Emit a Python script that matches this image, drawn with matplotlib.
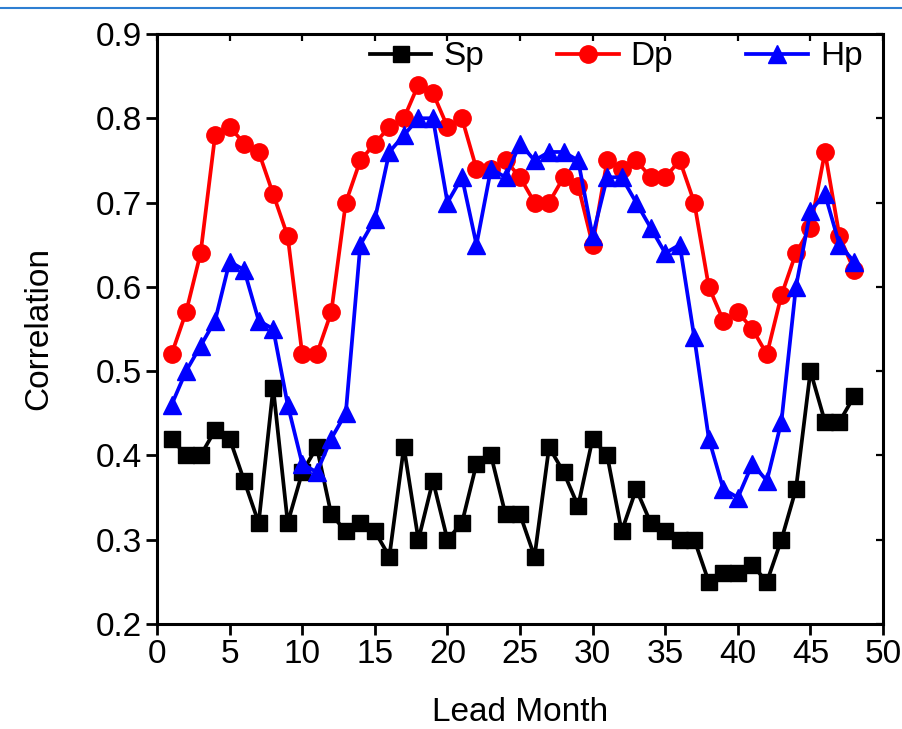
import matplotlib
matplotlib.use('Agg')
import matplotlib.pyplot as plt
from matplotlib.lines import Line2D

plt.rcParams['font.family'] = ['Liberation Sans', 'DejaVu Sans']

lead = list(range(1, 49))
sp = [0.42, 0.40, 0.40, 0.43, 0.42, 0.37, 0.32, 0.48, 0.32, 0.38, 0.41, 0.33,
      0.31, 0.32, 0.31, 0.28, 0.41, 0.30, 0.37, 0.30, 0.32, 0.39, 0.40, 0.33,
      0.33, 0.28, 0.41, 0.38, 0.34, 0.42, 0.40, 0.31, 0.36, 0.32, 0.31, 0.30,
      0.30, 0.25, 0.26, 0.26, 0.27, 0.25, 0.30, 0.36, 0.50, 0.44, 0.44, 0.47]
dp = [0.52, 0.57, 0.64, 0.78, 0.79, 0.77, 0.76, 0.71, 0.66, 0.52, 0.52, 0.57,
      0.70, 0.75, 0.77, 0.79, 0.80, 0.84, 0.83, 0.79, 0.80, 0.74, 0.74, 0.75,
      0.73, 0.70, 0.70, 0.73, 0.72, 0.65, 0.75, 0.74, 0.75, 0.73, 0.73, 0.75,
      0.70, 0.60, 0.56, 0.57, 0.55, 0.52, 0.59, 0.64, 0.67, 0.76, 0.66, 0.62]
hp = [0.46, 0.50, 0.53, 0.56, 0.63, 0.62, 0.56, 0.55, 0.46, 0.39, 0.38, 0.42,
      0.45, 0.65, 0.68, 0.76, 0.78, 0.80, 0.80, 0.70, 0.73, 0.65, 0.74, 0.73,
      0.77, 0.75, 0.76, 0.76, 0.75, 0.66, 0.73, 0.73, 0.70, 0.67, 0.64, 0.65,
      0.54, 0.42, 0.36, 0.35, 0.39, 0.37, 0.44, 0.60, 0.69, 0.71, 0.65, 0.63]
xticks = [0, 5, 10, 15, 20, 25, 30, 35, 40, 45, 50]
yticks = [0.2, 0.3, 0.4, 0.5, 0.6, 0.7, 0.8, 0.9]

fig = plt.figure(figsize=(9.03, 7.29), dpi=100)
ax = fig.add_axes([0.1739, 0.1440, 0.8040, 0.8094])
ax.plot(lead, sp, color='black', lw=2.7, marker='s', ms=11.5, label='Sp')
ax.plot(lead, dp, color='#FF0000', lw=2.7, marker='o', ms=12.5, label='Dp')
ax.plot(lead, hp, color='#0000FF', lw=2.7, marker='^', ms=13.5, label='Hp')

ax.set_xlim(0, 50); ax.set_ylim(0.2, 0.9)
ax.set_xticks(xticks); ax.set_yticks(yticks)
ax.set_xticklabels([str(t) for t in xticks]); ax.set_yticklabels([f'{t:.1f}' for t in yticks])
ax.tick_params(axis='both', which='major', direction='out', length=8, width=2, labelsize=24, pad=3)
for s in ax.spines.values():
    s.set_linewidth(2.2)
secx = ax.secondary_xaxis('top'); secx.set_xticks(xticks); secx.tick_params(direction='in', length=5, width=1.6, labeltop=False)
secy = ax.secondary_yaxis('right'); secy.set_yticks(yticks); secy.tick_params(direction='in', length=5, width=1.6, labelright=False)
ax.set_xlabel('Lead Month', fontsize=24, labelpad=19)
ax.set_ylabel('Correlation', fontsize=24, labelpad=30)
ax.legend(loc='upper right', ncol=3, frameon=False, fontsize=24, handlelength=1.85, handletextpad=0.35,
          columnspacing=2.2, borderaxespad=0.0, bbox_to_anchor=(0.99, 1.01))

fig.add_artist(Line2D([0, 1], [0.989, 0.989], transform=fig.transFigure, color='#2E7FD2', lw=1.5))
fig.savefig('out.png', dpi=100, facecolor='white')
